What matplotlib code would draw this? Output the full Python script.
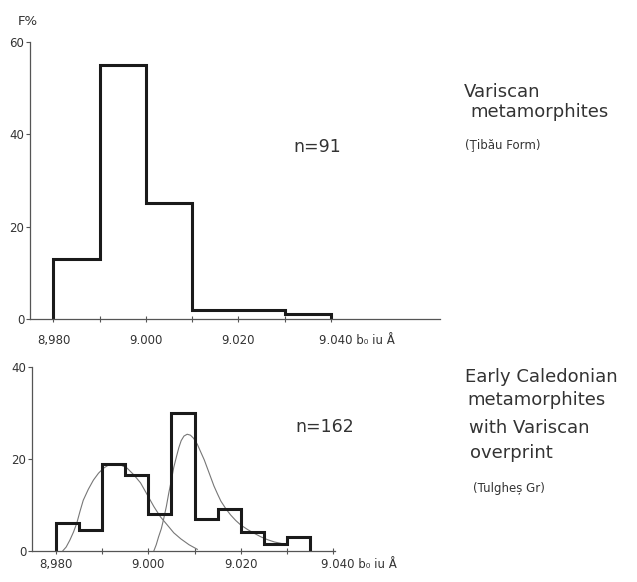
import matplotlib
matplotlib.use("Agg")
import matplotlib.pyplot as plt
import matplotlib.transforms as mtransforms

# ---------------- data ----------------
top_edges = [8.980, 8.990, 9.000, 9.010, 9.030, 9.040]
top_freq = [13, 55, 25, 2, 1]

bot_edges = [8.980, 8.985, 8.990, 8.995, 9.000, 9.005, 9.010, 9.015, 9.020, 9.025, 9.030, 9.035]
bot_freq = [6, 4.5, 19, 16.5, 8, 30, 7, 9, 4, 1.5, 3]

curve1_x = [8.9815, 8.9822, 8.9830, 8.9838, 8.9845, 8.9852, 8.9859, 8.9870,
            8.9881, 8.9892, 8.9903, 8.9914, 8.9925, 8.9940, 8.9954, 8.9968,
            8.9983, 8.9997, 9.0012, 9.0026, 9.0041, 9.0055, 9.0070, 9.0088,
            9.0106]
curve1_y = [0, 0.8, 2.3, 4.1, 6.0, 8.6, 11.0, 13.4, 15.4, 16.9, 18.0, 18.7,
            18.9, 18.7, 18.0, 16.6, 14.8, 12.3, 9.6, 7.4, 5.6, 3.9, 2.6, 1.3,
            0.3]

curve2_x = [9.0012, 9.0017, 9.0022, 9.0028, 9.0033, 9.0039, 9.0044, 9.0050,
            9.0055, 9.0061, 9.0066, 9.0071, 9.0077, 9.0084, 9.0091, 9.0098,
            9.0106, 9.0113, 9.0121, 9.0128, 9.0135, 9.0142, 9.0150, 9.0157,
            9.0168, 9.0178, 9.0189, 9.0200, 9.0215, 9.0229, 9.0244, 9.0258,
            9.0273, 9.0287, 9.0302]
curve2_y = [0, 1.3, 3.0, 4.8, 6.9, 9.7, 12.5, 15.5, 18.2, 20.6, 22.5, 24.0,
            25.0, 25.4, 25.2, 24.5, 23.2, 21.6, 19.8, 17.9, 16.0, 14.1, 12.3,
            10.8, 9.1, 7.8, 6.6, 5.6, 4.6, 3.8, 3.0, 2.4, 1.9, 1.6, 1.3]

x_major = [8.980, 9.000, 9.020, 9.040]
x_minor = [8.990, 9.010, 9.030]
x_labels = ["8,980", "9.000", "9.020", "9.040 b\u2080 iu Å"]
top_yticks = [0, 20, 40, 60]
bot_yticks = [0, 20, 40]

n_top = "n=91"
n_bot = "n=162"
top_title = ["Variscan", "metamorphites"]
top_sub = "(Ţibău Form)"
bot_title = ["Early Caledonian", "metamorphites", "with Variscan", "overprint"]
bot_sub = "(Tulgheș Gr)"

W, H = 637, 582
fig = plt.figure(figsize=(W / 100, H / 100), dpi=100)
plt.rcParams['font.family'] = ['DejaVu Sans']
TXT = "#333333"
AX = "#555555"


def fx(x):
    return x / W


def fy(y):
    return 1 - y / H


def step_xy(edges, vals):
    xs, ys = [edges[0]], [0]
    for i, v in enumerate(vals):
        xs += [edges[i], edges[i + 1]]
        ys += [v, v]
    xs.append(edges[-1])
    ys.append(0)
    return xs, ys


def style_axes(ax, yticks, label_pad):
    for s in ["top", "right"]:
        ax.spines[s].set_visible(False)
    for s in ["left", "bottom"]:
        ax.spines[s].set_color(AX)
        ax.spines[s].set_linewidth(0.9)
    ax.set_xticks(x_major)
    ax.set_xticks(x_minor, minor=True)
    ax.set_xticklabels(x_labels)
    ax.set_yticks(yticks)
    ax.set_yticklabels([str(t) for t in yticks])
    ax.tick_params(axis="x", which="both", direction="inout", length=4,
                   width=0.8, color=AX, labelsize=8.5, labelcolor=TXT, pad=label_pad)
    ax.tick_params(axis="y", direction="out", length=3, width=0.8, color=AX,
                   labelsize=8.5, labelcolor=TXT, pad=1)
    lab = ax.get_xticklabels()[-1]
    lab.set_horizontalalignment("left")
    off = mtransforms.ScaledTranslation(-12 / 100, 0, fig.dpi_scale_trans)
    lab.set_transform(lab.get_transform() + off)
    ax.patch.set_alpha(0)


# ---------------- top panel ----------------
ax1 = fig.add_axes([fx(30), fy(319), fx(440) - fx(30), fy(41.7) - fy(319)])
xs, ys = step_xy(top_edges, top_freq)
ax1.plot(xs, ys, color="#1a1a1a", lw=2.2, solid_joinstyle="miter")
ax1.set_xlim(8.97492, 9.06357)
ax1.set_ylim(0, 60)
style_axes(ax1, top_yticks, 9)
ax1.text(9.0318, 37.2, n_top, fontsize=12.5, color=TXT, ha="left", va="center")

# ---------------- bottom panel ----------------
ax2 = fig.add_axes([fx(31.7), fy(550.7), fx(335) - fx(31.7), fy(367.3) - fy(550.7)])
ax2.plot(curve1_x, curve1_y, color="#777777", lw=0.8)
ax2.plot(curve2_x, curve2_y, color="#777777", lw=0.8)
xs, ys = step_xy(bot_edges, bot_freq)
ax2.plot(xs, ys, color="#1a1a1a", lw=2.2, solid_joinstyle="miter")
ax2.set_xlim(8.97474, 9.0404)
ax2.set_ylim(0, 40)
style_axes(ax2, bot_yticks, 3)
ax2.text(9.0318, 27.0, n_bot, fontsize=12.5, color=TXT, ha="left", va="center")

# ---------------- figure texts ----------------
fig.text(fx(18), fy(25), "F%", fontsize=9.5, color=TXT, ha="left", va="baseline")

fig.text(fx(464), fy(96.7), top_title[0], fontsize=13, color=TXT, va="baseline")
fig.text(fx(470), fy(116.7), top_title[1], fontsize=13, color=TXT, va="baseline")
fig.text(fx(465), fy(149), top_sub, fontsize=8.5, color=TXT, va="baseline")

bx = [465, 467, 469, 470]
by = [381.7, 405, 433, 458]
for t, x, y in zip(bot_title, bx, by):
    fig.text(fx(x), fy(y), t, fontsize=13, color=TXT, va="baseline")
fig.text(fx(473), fy(492), bot_sub, fontsize=8.5, color=TXT, va="baseline")

fig.savefig("out.png", dpi=100)
